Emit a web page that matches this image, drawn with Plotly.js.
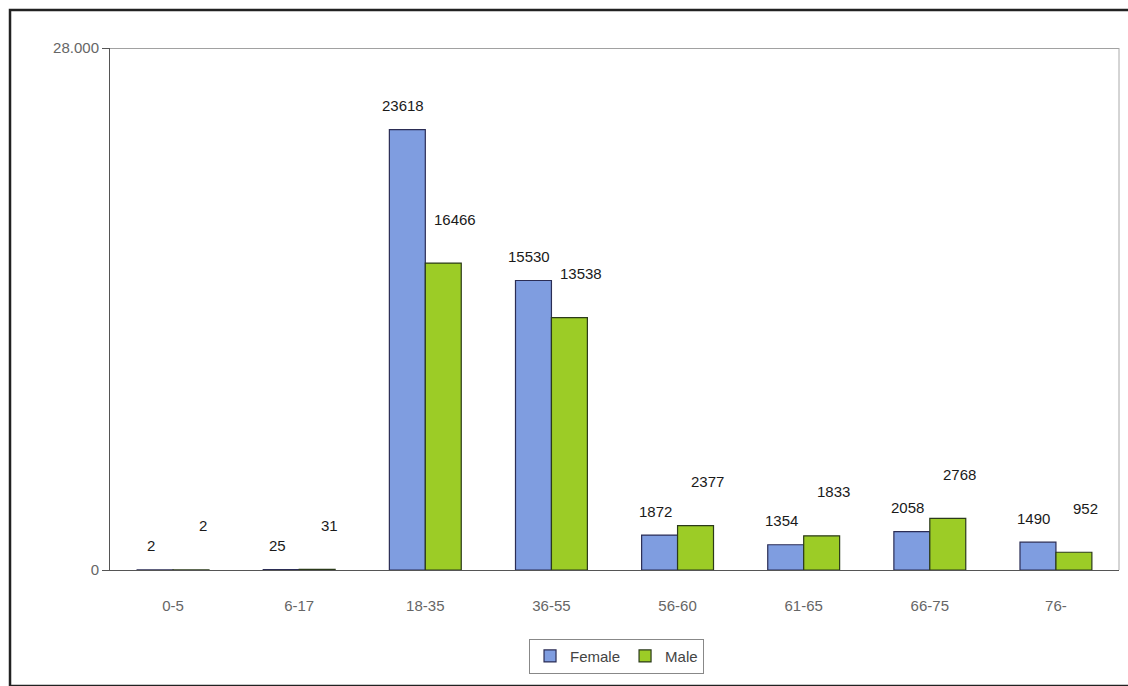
<!DOCTYPE html>
<html>
<head>
<meta charset="utf-8">
<script src="https://cdn.plot.ly/plotly-3.0.1.min.js"></script>
<style>
html,body{margin:0;padding:0;background:#fff;}
#chart{width:1128px;height:686px;}
</style>
</head>
<body>
<div id="chart"></div>
<script>
const categories = ["0-5","6-17","18-35","36-55","56-60","61-65","66-75","76-"];
const female = [2, 25, 23618, 15530, 1872, 1354, 2058, 1490];
const male = [2, 31, 16466, 13538, 2377, 1833, 2768, 952];
const yTickVals = [0, 28000];
const yTickText = ["0", "28.000"];

const labelFont = {family: "Liberation Sans, Arial, sans-serif", size: 15, color: "#1a1a1a"};

const traces = [
  {type: "bar", name: "Female", x: categories, y: female,
   marker: {color: "#7f9de0", line: {color: "#2b2d55", width: 1.2}}},
  {type: "bar", name: "Male", x: categories, y: male,
   marker: {color: "#9ccc26", line: {color: "#2b3a1a", width: 1.2}}}
];

const annotations = [];
categories.forEach((c, i) => {
  annotations.push({x: c, y: female[i], xref: "x", yref: "y", text: String(female[i]),
    showarrow: false, xshift: -22, yshift: 24, yanchor: "middle", font: labelFont});
  annotations.push({x: c, y: male[i], xref: "x", yref: "y", text: String(male[i]),
    showarrow: false, xshift: 30, yshift: 44, yanchor: "middle", font: labelFont});
});

const layout = {
  width: 1128, height: 686,
  paper_bgcolor: "#fff", plot_bgcolor: "#fff",
  margin: {l: 110, r: 9, t: 48, b: 116},
  font: {family: "Liberation Sans, Arial, sans-serif", color: "#555", size: 14},
  barmode: "group", bargap: 0.43, bargroupgap: 0,
  showlegend: true,
  legend: {orientation: "h", x: 0.502, xanchor: "center", y: -0.165, yanchor: "middle",
    bordercolor: "#888", borderwidth: 1, bgcolor: "#fff",
    font: {size: 15, color: "#444"}, itemwidth: 30},
  xaxis: {type: "category", showline: true, linecolor: "#555", linewidth: 1,
    ticks: "outside", ticklen: 22, tickcolor: "rgba(0,0,0,0)",
    tickfont: {size: 15, color: "#666"}, showgrid: false, zeroline: false},
  yaxis: {range: [0, 28000], tickvals: yTickVals, ticktext: yTickText,
    showline: true, linecolor: "#555", linewidth: 1, ticks: "outside", ticklen: 7,
    tickcolor: "#555", showgrid: false, zeroline: false,
    tickfont: {size: 15, color: "#666"}},
  annotations: annotations,
  shapes: [
    {type: "line", xref: "paper", yref: "y", x0: 0, x1: 1, y0: 28000, y1: 28000,
     line: {color: "#444", width: 1.2}},
    {type: "line", xref: "paper", yref: "paper", x0: 1, x1: 1, y0: 0, y1: 1,
     line: {color: "#aaa", width: 1}},
    {type: "rect", xref: "paper", yref: "paper", x0: -0.0991, x1: 1.02, y0: -0.222, y1: 1.0727,
     line: {color: "#222", width: 2.5}}
  ]
};

Plotly.newPlot("chart", traces, layout, {displayModeBar: false, staticPlot: true});
</script>
</body>
</html>
